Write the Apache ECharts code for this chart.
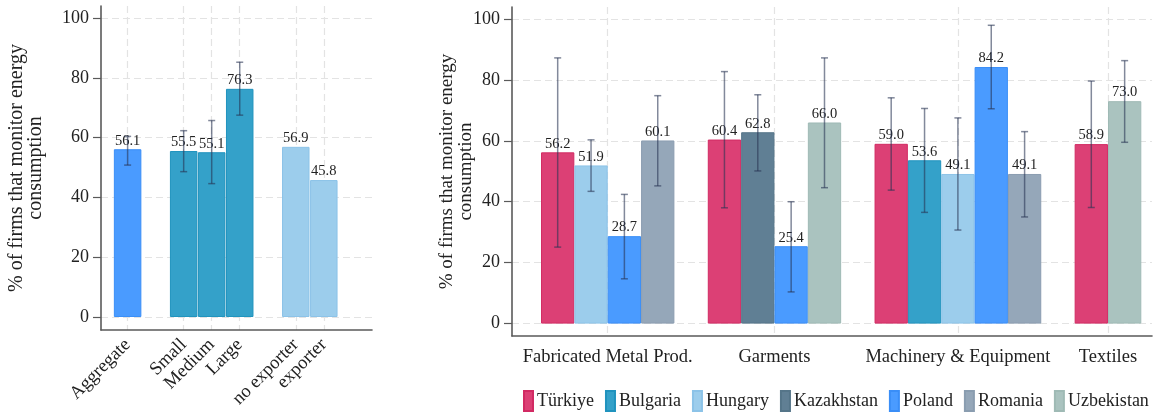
<!DOCTYPE html>
<html>
<head>
<meta charset="utf-8">
<script src="https://cdn.jsdelivr.net/npm/echarts@6/dist/echarts.min.js"></script>
<style>
html,body{margin:0;padding:0;background:#fff;}
#chart{width:1159px;height:417px;}
</style>
</head>
<body>
<div id="chart"></div>
<script>
// ---------- DATA ----------
// Left panel
const leftCategories = ['Aggregate', 'Small', 'Medium', 'Large', 'no exporter', 'exporter'];
const leftGroups = ['aggregate', 'size', 'size', 'size', 'export', 'export'];
const leftValues = [56.1, 55.5, 55.1, 76.3, 56.9, 45.8];
const leftLow = [50.8, 48.6, 44.6, 67.5, null, null];
const leftHigh = [60.4, 62.3, 65.7, 85.2, null, null];

// Right panel
const sectors = ['Fabricated Metal Prod.', 'Garments', 'Machinery & Equipment', 'Textiles'];
const countries = ['Türkiye', 'Bulgaria', 'Hungary', 'Kazakhstan', 'Poland', 'Romania', 'Uzbekistan'];
const turkiye    = [56.2, 60.4, 59.0, 58.9];
const bulgaria   = [null, null, 53.6, null];
const hungary    = [51.9, null, 49.1, null];
const kazakhstan = [null, 62.8, null, null];
const poland     = [28.7, 25.4, 84.2, null];
const romania    = [60.1, null, 49.1, null];
const uzbekistan = [null, 66.0, null, 73.0];

const turkiyeLow     = [25.1, 38.0, 43.8, 38.1];
const turkiyeHigh    = [87.2, 82.7, 74.1, 79.6];
const bulgariaLow    = [null, null, 36.5, null];
const bulgariaHigh   = [null, null, 70.6, null];
const hungaryLow     = [43.4, null, 30.7, null];
const hungaryHigh    = [60.3, null, 67.5, null];
const kazakhstanLow  = [null, 50.1, null, null];
const kazakhstanHigh = [null, 75.1, null, null];
const polandLow      = [14.7, 10.4, 70.5, null];
const polandHigh     = [42.4, 40.0, 97.9, null];
const romaniaLow     = [45.2, null, 35.0, null];
const romaniaHigh    = [74.8, null, 63.0, null];
const uzbekistanLow  = [null, 44.6, null, 59.5];
const uzbekistanHigh = [null, 87.2, null, 86.3];

const yTicks = [0, 20, 40, 60, 80, 100];
const yTitle = '% of firms that monitor energy\nconsumption';

// ---------- STYLE ----------
const FONT = "'Liberation Serif', 'Times New Roman', serif";
const countryColors = {
  'Türkiye':   ['#DC4075', '#D22A63'],
  'Bulgaria':  ['#34A1C9', '#2093BE'],
  'Hungary':   ['#9CCDEC', '#8CC3E8'],
  'Kazakhstan':['#607F94', '#557589'],
  'Poland':    ['#4A9BFF', '#3A8EF7'],
  'Romania':   ['#95A7B9', '#8A9DB0'],
  'Uzbekistan':['#AAC3BF', '#9FBAB5']
};
const leftGroupColor = { aggregate: 'Poland', size: 'Bulgaria', export: 'Hungary' };
const errColor = 'rgba(40,52,82,0.58)';

// ---------- DERIVED ----------
const countryValues = [turkiye, bulgaria, hungary, kazakhstan, poland, romania, uzbekistan];
const countryLow = [turkiyeLow, bulgariaLow, hungaryLow, kazakhstanLow, polandLow, romaniaLow, uzbekistanLow];
const countryHigh = [turkiyeHigh, bulgariaHigh, hungaryHigh, kazakhstanHigh, polandHigh, romaniaHigh, uzbekistanHigh];

// left slots
const leftSlots = [];
{
  let s = 0;
  leftCategories.forEach((c, i) => {
    if (i > 0 && leftGroups[i] !== leftGroups[i - 1]) s += 1;
    leftSlots.push(s);
    s += 1;
  });
}
// right slots
const rightSlots = countries.map(() => sectors.map(() => null));
const sectorCenters = [];
{
  let s = 0;
  sectors.forEach((sec, j) => {
    const used = [];
    countries.forEach((c, i) => {
      if (countryValues[i][j] != null) { rightSlots[i][j] = s; used.push(s); s += 1; }
    });
    sectorCenters.push((used[0] + used[used.length - 1]) / 2);
    s += 1;
  });
}

function renderErr(params, api) {
  const x = api.value(0), lo = api.value(1), hi = api.value(2);
  const p1 = api.coord([x, lo]);
  const p2 = api.coord([x, hi]);
  const cw = 3.5;
  const style = { stroke: errColor, lineWidth: 1.5 };
  return {
    type: 'group',
    children: [
      { type: 'line', shape: { x1: p1[0], y1: p1[1], x2: p2[0], y2: p2[1] }, style },
      { type: 'line', shape: { x1: p1[0] - cw, y1: p1[1], x2: p1[0] + cw, y2: p1[1] }, style },
      { type: 'line', shape: { x1: p2[0] - cw, y1: p2[1], x2: p2[0] + cw, y2: p2[1] }, style }
    ]
  };
}

const barLabel = {
  show: true, position: 'top', distance: 1,
  fontFamily: FONT, fontSize: 14.5, color: '#222',
  formatter: p => Number(p.value[1]).toFixed(1)
};

const axisLineStyle = { color: '#5a5a5a', width: 1.6 };
const splitStyle = { show: true, lineStyle: { color: '#e3e3e3', type: [7, 4], width: 1.2 } };

function yAxisCfg(gridIndex, min, max, nameGap, nameSize) {
  return {
    type: 'value', gridIndex, min, max,
    name: yTitle, nameLocation: 'middle', nameGap, nameRotate: 90, nameMoveOverlap: false,
    nameTextStyle: { fontFamily: FONT, fontSize: nameSize, color: '#222', lineHeight: 19 },
    axisLine: { show: true, onZero: false, lineStyle: axisLineStyle },
    axisTick: { show: true, length: 8, customValues: yTicks, lineStyle: { color: '#5a5a5a', width: 1.2 } },
    axisLabel: { customValues: yTicks, fontFamily: FONT, fontSize: 18, color: '#222', margin: 12 },
    splitLine: splitStyle
  };
}

const leftLabelMap = {};
leftSlots.forEach((s, i) => { leftLabelMap[s] = leftCategories[i]; });
const rightLabelMap = {};
sectorCenters.forEach((s, j) => { rightLabelMap[s] = sectors[j]; });

const series = [];
// left bars
series.push({
  type: 'bar', xAxisIndex: 0, yAxisIndex: 0, barWidth: 27.5,
  data: leftValues.map((v, i) => {
    const cc = countryColors[leftGroupColor[leftGroups[i]]];
    return { value: [leftSlots[i], v], itemStyle: { color: cc[0], borderColor: cc[1], borderWidth: 1 } };
  }),
  label: barLabel, z: 2
});
series.push({
  type: 'custom', xAxisIndex: 0, yAxisIndex: 0, renderItem: renderErr, silent: true, z: 5,
  encode: { x: 0, y: [1, 2] },
  data: leftValues.map((v, i) => [leftSlots[i], leftLow[i], leftHigh[i]]).filter(d => d[1] != null)
});
// right bars
countries.forEach((c, i) => {
  const data = [];
  sectors.forEach((sec, j) => {
    if (countryValues[i][j] != null) data.push([rightSlots[i][j], countryValues[i][j]]);
  });
  series.push({
    name: c, type: 'bar', xAxisIndex: 1, yAxisIndex: 1, barWidth: 33.3, barGap: '-100%',
    itemStyle: { color: countryColors[c][0], borderColor: countryColors[c][1], borderWidth: 1 },
    data, label: barLabel, z: 2
  });
});
const rightErr = [];
countries.forEach((c, i) => {
  sectors.forEach((sec, j) => {
    if (countryLow[i][j] != null) rightErr.push([rightSlots[i][j], countryLow[i][j], countryHigh[i][j]]);
  });
});
series.push({
  type: 'custom', xAxisIndex: 1, yAxisIndex: 1, renderItem: renderErr, silent: true, z: 5,
  encode: { x: 0, y: [1, 2] }, data: rightErr
});

const option = {
  animation: false,
  backgroundColor: '#fff',
  textStyle: { fontFamily: FONT },
  grid: [
    { left: 101, right: 787, top: 6, bottom: 87 },
    { left: 512, right: 7, top: 7, bottom: 81 }
  ],
  legend: {
    data: countries, left: 518, top: 385, itemWidth: 9, itemHeight: 20, itemGap: 11,
    icon: 'rect', textStyle: { fontFamily: FONT, fontSize: 18, color: '#222', padding: [0, 0, 0, -1] }
  },
  xAxis: [
    {
      type: 'value', gridIndex: 0, min: -0.95, max: 8.72,
      axisLine: { show: true, onZero: false, lineStyle: axisLineStyle },
      axisTick: { show: false, customValues: leftSlots },
      axisLabel: {
        customValues: leftSlots, rotate: 45, margin: 12,
        fontFamily: FONT, fontSize: 18.5, color: '#222',
        formatter: v => leftLabelMap[v] || ''
      },
      splitLine: splitStyle
    },
    {
      type: 'value', gridIndex: 1, min: -1.37, max: 17.82,
      axisLine: { show: true, onZero: false, lineStyle: axisLineStyle },
      axisTick: { show: false, customValues: sectorCenters },
      axisLabel: {
        customValues: sectorCenters, margin: 12,
        fontFamily: FONT, fontSize: 18.5, color: '#222',
        formatter: v => rightLabelMap[v] || ''
      },
      splitLine: splitStyle
    }
  ],
  yAxis: [
    yAxisCfg(0, -4.35, 104.0, 56, 20),
    yAxisCfg(1, -4.07, 103.9, 36, 19)
  ],
  series
};

const chart = echarts.init(document.getElementById('chart'), null, { renderer: 'canvas' });
chart.setOption(option);
</script>
</body>
</html>
